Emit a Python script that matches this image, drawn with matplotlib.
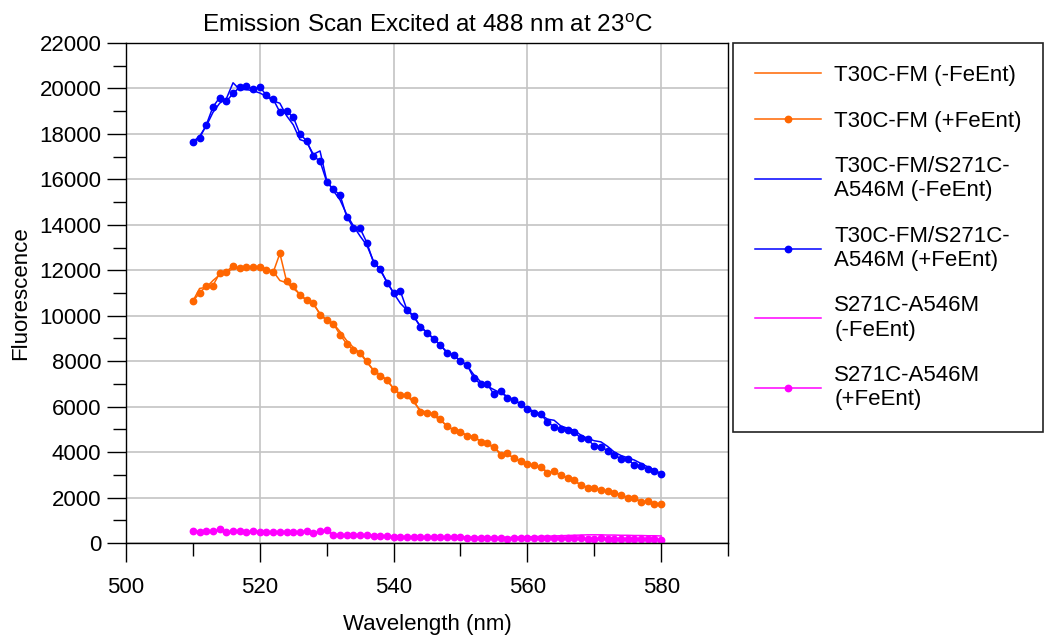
import numpy as np
import matplotlib
matplotlib.use("Agg")
import matplotlib.pyplot as plt
from matplotlib.ticker import MultipleLocator

plt.rcParams['font.family'] = ['Liberation Sans', 'DejaVu Sans']
plt.rcParams['mathtext.fontset'] = 'custom'
plt.rcParams['mathtext.rm'] = 'Liberation Sans'
plt.rcParams['font.size'] = 16

# emission wavelengths, 1 nm steps
wavelength = np.arange(510, 581)

t30c_minus = [10650, 11200, 11250, 11550, 11800, 11950, 12050, 12100, 12150, 12150,
              12150, 12050, 11950, 11550, 11450, 11200, 10950, 10650, 10500, 10100,
              9800, 9650, 9300, 8900, 8600, 8350, 7950, 7600, 7400, 7150,
              6800, 6550, 6450, 6200, 5850, 5750, 5600, 5400, 5150, 4950,
              4850, 4750, 4650, 4500, 4350, 4200, 3950, 3900, 3750, 3600,
              3500, 3400, 3300, 3150, 3100, 3000, 2850, 2750, 2550, 2450,
              2400, 2350, 2250, 2200, 2100, 2000, 1950, 1850, 1800, 1750,
              1700]
t30c_plus = [10630, 11010, 11300, 11330, 11870, 11940, 12200, 12090, 12150, 12130,
             12160, 12010, 11910, 12740, 11520, 11300, 10920, 10700, 10580, 10040,
             9800, 9650, 9160, 8760, 8490, 8370, 8000, 7590, 7370, 7190,
             6790, 6510, 6500, 6280, 5760, 5710, 5690, 5440, 5130, 4990,
             4900, 4710, 4680, 4460, 4380, 4240, 3870, 3940, 3720, 3600,
             3460, 3430, 3350, 3060, 3160, 2990, 2870, 2760, 2540, 2440,
             2400, 2320, 2280, 2220, 2120, 2000, 1960, 1790, 1840, 1710,
             1710]
dual_minus = [17650, 17900, 18350, 18950, 19350, 19550, 20250, 19950, 19950, 19900,
              19800, 19650, 19450, 19350, 18800, 18400, 17750, 17650, 17100, 17250,
              15950, 15500, 15090, 14450, 13950, 13500, 13100, 12400, 12000, 11500,
              11000, 10550, 10250, 9950, 9550, 9250, 9000, 8700, 8400, 8250,
              8000, 7800, 7400, 7100, 6900, 6750, 6600, 6450, 6300, 6100,
              5900, 5800, 5650, 5450, 5400, 5150, 5050, 4950, 4750, 4600,
              4500, 4450, 4250, 4000, 3850, 3750, 3650, 3500, 3350, 3200,
              3050]
dual_plus = [17630, 17820, 18400, 19190, 19600, 19430, 19780, 20060, 20100, 19960,
             20070, 19690, 19530, 18960, 18990, 18740, 18000, 17690, 17030, 16800,
             15900, 15560, 15310, 14350, 13870, 13840, 13220, 12340, 12070, 11460,
             11010, 11090, 10260, 10010, 9500, 9260, 8960, 8720, 8350, 8280,
             8010, 7840, 7240, 7000, 7000, 6540, 6700, 6400, 6290, 6130,
             5880, 5710, 5680, 5310, 5120, 5000, 4970, 4900, 4600, 4560,
             4280, 4240, 4060, 3870, 3710, 3680, 3430, 3380, 3240, 3160,
             3040]
a546_minus = [510, 500, 505, 515, 540, 500, 510, 505, 495, 510,
              500, 500, 495, 495, 490, 490, 480, 470, 440, 480,
              520, 380, 360, 350, 350, 345, 340, 330, 320, 300,
              290, 285, 280, 275, 270, 265, 265, 265, 265, 260,
              260, 255, 250, 250, 250, 245, 240, 240, 250, 260,
              270, 280, 290, 300, 310, 320, 330, 340, 350, 360,
              360, 360, 350, 350, 340, 340, 330, 330, 320, 320,
              310]
a546_plus = [528, 500, 513, 528, 601, 470, 528, 513, 484, 528,
             500, 500, 484, 500, 500, 484, 500, 513, 425, 528,
             572, 367, 352, 352, 367, 367, 352, 323, 323, 308,
             279, 279, 279, 264, 249, 264, 264, 279, 264, 249,
             249, 235, 235, 235, 220, 220, 205, 190, 205, 220,
             205, 205, 205, 220, 205, 205, 205, 220, 205, 190,
             190, 205, 190, 190, 190, 190, 190, 190, 190, 190,
             147]

orange = '#ff6600'
blue = '#0000ff'
magenta = '#ff00ff'

fig = plt.figure(figsize=(10.45, 6.36), dpi=100)
ax = fig.add_axes([0.1206, 0.1462, 0.5761, 0.7862])

lw = 1.1
ms = 4.6
ax.plot(wavelength, t30c_minus, color=orange, lw=lw, label='T30C-FM (-FeEnt)')
ax.plot(wavelength, t30c_plus, color=orange, lw=lw, marker='o', ms=ms,
        label='T30C-FM (+FeEnt)')
ax.plot(wavelength, dual_minus, color=blue, lw=lw, label='T30C-FM/S271C-\nA546M (-FeEnt)')
ax.plot(wavelength, dual_plus, color=blue, lw=lw, marker='o', ms=ms,
        label='T30C-FM/S271C-\nA546M (+FeEnt)')
ax.plot(wavelength, a546_minus, color=magenta, lw=lw, label='S271C-A546M\n(-FeEnt)')
ax.plot(wavelength, a546_plus, color=magenta, lw=lw, marker='o', ms=ms,
        label='S271C-A546M\n(+FeEnt)')

ax.set_xlim(500, 590)
ax.set_ylim(0, 22000)
ax.xaxis.set_major_locator(MultipleLocator(20))
ax.xaxis.set_minor_locator(MultipleLocator(10))
ax.yaxis.set_major_locator(MultipleLocator(2000))
ax.yaxis.set_minor_locator(MultipleLocator(1000))
ax.tick_params(which='major', direction='out', length=13.7, width=1.0)
ax.tick_params(which='minor', direction='out', length=9.4, width=1.0)
ax.tick_params(axis='x', which='major', pad=10.5)
ax.tick_params(axis='y', which='major', pad=4)
ax.grid(True, which='major', color='#c4c4c4', lw=1.2)
ax.set_axisbelow(True)
for s in ax.spines.values():
    s.set_linewidth(1.0)

ax.set_title('Emission Scan Excited at 488 nm at 23$^{\\mathrm{o}}$C', fontsize=17.5, pad=8)
ax.set_xlabel('Wavelength (nm)', labelpad=12)
ax.set_ylabel('Fluorescence', labelpad=6)

leg = ax.legend(loc='upper left', bbox_to_anchor=(1.0083, 1.0, 0.515, 0.0),
                mode='expand', borderaxespad=0, fancybox=False, framealpha=1,
                edgecolor='#222222', numpoints=1, handlelength=2.95,
                handletextpad=0.6, labelspacing=1.1, borderpad=1.0, fontsize=16)
leg.get_frame().set_linewidth(1.2)

fig.savefig('out.png', dpi=100)
